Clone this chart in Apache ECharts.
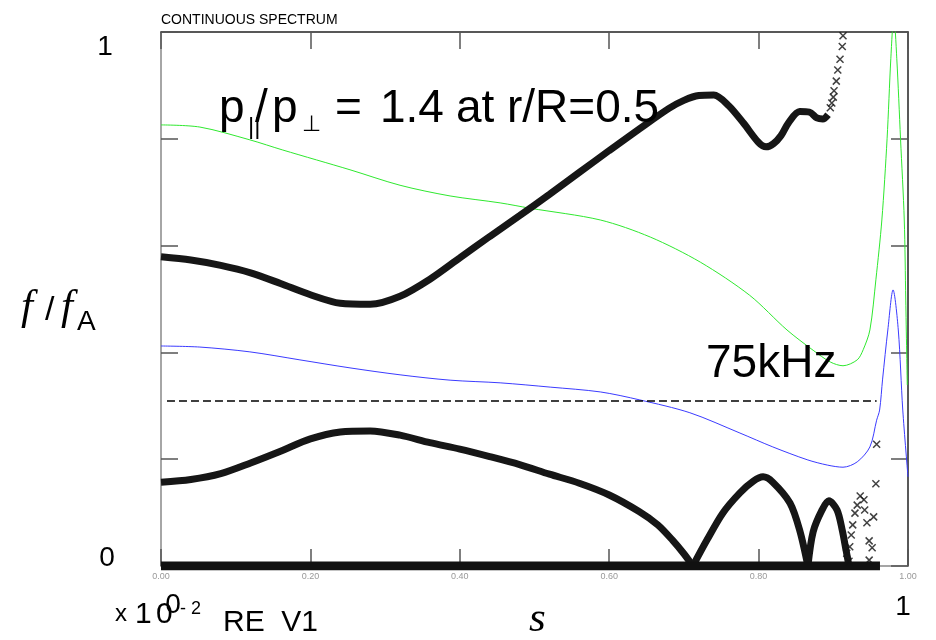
<!DOCTYPE html>
<html>
<head>
<meta charset="utf-8">
<script src="https://cdn.jsdelivr.net/npm/echarts@6/dist/echarts.min.js"></script>
<style>html,body{margin:0;padding:0;background:#fff}#chart{width:936px;height:640px}</style>
</head>
<body>
<div id="chart"></div>
<script>
// s axis ticks and their (small) labels
const sTicks = [0, 0.2, 0.4, 0.6, 0.8, 1.0];
const sTickLabels = ['0.00', '0.20', '0.40', '0.60', '0.80', '1.00'];

// upper continuum branch (dense markers), [s, f/fA]
const upperBranch = [
  [0, 0.579], [0.04, 0.573], [0.08, 0.563], [0.12, 0.549], [0.16, 0.529],
  [0.20, 0.508], [0.24, 0.492], [0.28, 0.490], [0.32, 0.505], [0.36, 0.537],
  [0.40, 0.577], [0.44, 0.617], [0.48, 0.656], [0.52, 0.696], [0.56, 0.737],
  [0.60, 0.778], [0.64, 0.818], [0.68, 0.857], [0.70, 0.872], [0.72, 0.881],
  [0.74, 0.882], [0.76, 0.862], [0.78, 0.829], [0.80, 0.793], [0.81, 0.785],
  [0.82, 0.791], [0.83, 0.806], [0.84, 0.830], [0.855, 0.851], [0.868, 0.850],
  [0.878, 0.839], [0.886, 0.837], [0.893, 0.845]
];
// isolated markers where the upper branch leaves the frame
const upperSparse = [
  [0.896, 0.858], [0.898, 0.867], [0.900, 0.878], [0.901, 0.890], [0.904, 0.908],
  [0.906, 0.929], [0.909, 0.949], [0.912, 0.973], [0.913, 0.993]
];
// lower continuum branch: arcs that touch zero
const lowerArc1 = [
  [0, 0.157], [0.04, 0.162], [0.08, 0.173], [0.12, 0.193], [0.16, 0.215],
  [0.20, 0.238], [0.24, 0.251], [0.28, 0.253], [0.32, 0.245], [0.36, 0.231],
  [0.40, 0.219], [0.44, 0.205], [0.48, 0.190], [0.52, 0.172], [0.56, 0.155],
  [0.60, 0.133], [0.64, 0.102], [0.665, 0.077], [0.685, 0.048], [0.700, 0.023],
  [0.712, 0]
];
const lowerArc2 = [
  [0.712, 0], [0.731, 0.049], [0.752, 0.099], [0.775, 0.137], [0.793, 0.159],
  [0.806, 0.167], [0.819, 0.157], [0.842, 0.118], [0.855, 0.067], [0.866, 0]
];
const lowerArc3 = [
  [0.866, 0], [0.873, 0.064], [0.885, 0.105], [0.894, 0.122], [0.905, 0.105],
  [0.912, 0.067], [0.917, 0.030], [0.921, 0]
];
// scattered markers near the edge
const lowerSparse = [
  [0.958, 0.228], [0.957, 0.154], [0.936, 0.131], [0.941, 0.124], [0.932, 0.114],
  [0.942, 0.105], [0.929, 0.099], [0.954, 0.092], [0.945, 0.081], [0.926, 0.077],
  [0.924, 0.058], [0.948, 0.047], [0.922, 0.036], [0.952, 0.034], [0.918, 0.024],
  [0.948, 0.011], [0.921, 0.009]
];
// markers piled on f = 0
const zeroBand = [[0, 0], [0.9625, 0]];
// shear Alfven continuum curves
const greenContinuum = [
  [0, 0.826], [0.052, 0.822], [0.119, 0.798], [0.163, 0.779], [0.253, 0.742],
  [0.320, 0.713], [0.387, 0.693], [0.454, 0.680], [0.494, 0.670], [0.588, 0.648],
  [0.655, 0.616], [0.722, 0.569], [0.788, 0.507], [0.838, 0.442], [0.873, 0.404],
  [0.896, 0.382], [0.913, 0.375], [0.932, 0.386], [0.940, 0.405], [0.949, 0.442],
  [0.957, 0.536], [0.965, 0.648], [0.972, 0.800], [0.977, 0.950], [0.981, 1.030],
  [0.985, 0.950], [0.990, 0.800], [0.995, 0.648], [0.997, 0.498], [0.999, 0.339]
];
const blueContinuum = [
  [0, 0.412], [0.052, 0.410], [0.119, 0.401], [0.186, 0.386], [0.253, 0.371],
  [0.320, 0.358], [0.387, 0.348], [0.454, 0.343], [0.521, 0.335], [0.588, 0.326],
  [0.641, 0.311], [0.708, 0.287], [0.775, 0.249], [0.819, 0.223], [0.865, 0.199],
  [0.892, 0.189], [0.913, 0.185], [0.932, 0.195], [0.949, 0.223], [0.958, 0.273],
  [0.962, 0.292], [0.966, 0.350], [0.973, 0.442], [0.980, 0.517], [0.987, 0.442],
  [0.993, 0.292], [1.0, 0.167]
];
// 75 kHz mode frequency level
const mode75kHz = [[0.008, 0.309], [0.958, 0.309]];

const SANS = '"Liberation Sans", Arial, sans-serif';
const SERIF = '"Liberation Serif", "Times New Roman", serif';
const XMARK = 'path://M0,0L10,10M10,0L0,10';

function txt(x, y, text, font, align) {
  return {
    type: 'text', x: x, y: y, z: 100,
    style: {
      text: text, font: font, fill: '#000',
      align: align || 'left', verticalAlign: 'middle',
      textAlign: align || 'left', textVerticalAlign: 'middle'
    }
  };
}

const chart = echarts.init(document.getElementById('chart'), null, { width: 936, height: 640, renderer: 'canvas' });

const thick = { width: 7, color: '#161616' };
function branch(data) {
  return { type: 'line', data: data, smooth: 0.3, symbol: 'none', lineStyle: thick, z: 5 };
}
function marks(data) {
  return {
    type: 'scatter', data: data, symbol: XMARK, symbolSize: 7,
    itemStyle: { color: 'transparent', borderColor: '#111', borderWidth: 1.5 }, z: 6
  };
}

const xCommon = {
  type: 'value', min: 0, max: 1, interval: 0.2,
  splitLine: { show: false },
  axisTick: { show: true, inside: true, length: 17, lineStyle: { color: '#555', width: 1.5 } }
};
const yCommon = {
  type: 'value', min: 0, max: 1, interval: 0.2,
  splitLine: { show: false },
  axisLabel: { show: false },
  axisTick: { show: true, inside: true, length: 17, lineStyle: { color: '#555', width: 1.5 } }
};

chart.setOption({
  animation: false,
  backgroundColor: '#fff',
  grid: { left: 161, top: 32, width: 747, height: 534, containLabel: false },
  xAxis: [
    Object.assign({}, xCommon, {
      position: 'bottom',
      axisLine: { show: true, onZero: false, lineStyle: { color: '#888', width: 1.5 } },
      axisLabel: { show: true, fontSize: 9, color: '#999', margin: 6, fontFamily: SANS,
        formatter: function (v) { return sTickLabels[sTicks.indexOf(Math.round(v * 5) / 5)]; } }
    }),
    Object.assign({}, xCommon, {
      position: 'top',
      axisLine: { show: true, onZero: false, lineStyle: { color: '#222', width: 1.5 } },
      axisLabel: { show: false }
    })
  ],
  yAxis: [
    Object.assign({}, yCommon, {
      position: 'left',
      axisLine: { show: true, onZero: false, lineStyle: { color: '#888', width: 1.5 } }
    }),
    Object.assign({}, yCommon, {
      position: 'right',
      axisLine: { show: true, onZero: false, lineStyle: { color: '#222', width: 1.5 } }
    })
  ],
  series: [
    { type: 'line', data: greenContinuum, smooth: 0.3, symbol: 'none',
      lineStyle: { width: 1, color: '#2fe82f' }, z: 2 },
    { type: 'line', data: blueContinuum, smooth: 0.3, symbol: 'none',
      lineStyle: { width: 1, color: '#3b3bff' }, z: 2 },
    { type: 'line', data: mode75kHz, symbol: 'none',
      lineStyle: { width: 1.5, color: '#000', type: [8, 4] }, z: 3 },
    branch(upperBranch),
    branch(lowerArc1),
    branch(lowerArc2),
    branch(lowerArc3),
    { type: 'line', data: zeroBand, symbol: 'none', lineStyle: { width: 9, color: '#111' }, z: 5 },
    marks(upperSparse),
    marks(lowerSparse)
  ],
  graphic: [
    txt(161, 20, 'CONTINUOUS SPECTRUM', '14px ' + SANS),
    txt(105, 47, '1', '28px ' + SANS, 'center'),
    txt(107, 558, '0', '28px ' + SANS, 'center'),
    txt(173, 605, '0', '28px ' + SANS, 'center'),
    txt(903, 607, '1', '28px ' + SANS, 'center'),
    // f / f_A
    txt(21, 308, 'f', 'italic 43px ' + SERIF),
    txt(45, 311, '/', '34px ' + SANS),
    txt(61, 308, 'f', 'italic 43px ' + SERIF),
    txt(77, 322, 'A', '28px ' + SANS),
    // s
    txt(529, 620, 's', 'italic 43px ' + SERIF),
    // x 10^-2 RE V1
    txt(115, 614, 'x', '24px ' + SANS),
    txt(135, 615, '1', '30px ' + SANS),
    txt(156, 615, '0', '30px ' + SANS),
    txt(180, 609, '- 2', '18px ' + SANS),
    txt(223, 623, 'RE  V1', '30px ' + SANS),
    // p_par / p_perp = 1.4 at r/R=0.5
    txt(219, 109, 'p', '46px ' + SANS),
    txt(248, 127, '||', '24px ' + SANS),
    txt(255, 109, '/', '46px ' + SANS),
    txt(272, 109, 'p', '46px ' + SANS),
    txt(302, 125, '\u22A5', '22px "DejaVu Sans", ' + SANS),
    txt(335, 109, '=', '46px ' + SANS),
    txt(380, 109, '1.4', '46px ' + SANS),
    txt(456, 109, 'at', '46px ' + SANS),
    txt(507, 109, 'r/R=0.5', '46px ' + SANS),
    // mode label
    txt(706, 364, '75kHz', '46px ' + SANS)
  ]
});
</script>
</body>
</html>
